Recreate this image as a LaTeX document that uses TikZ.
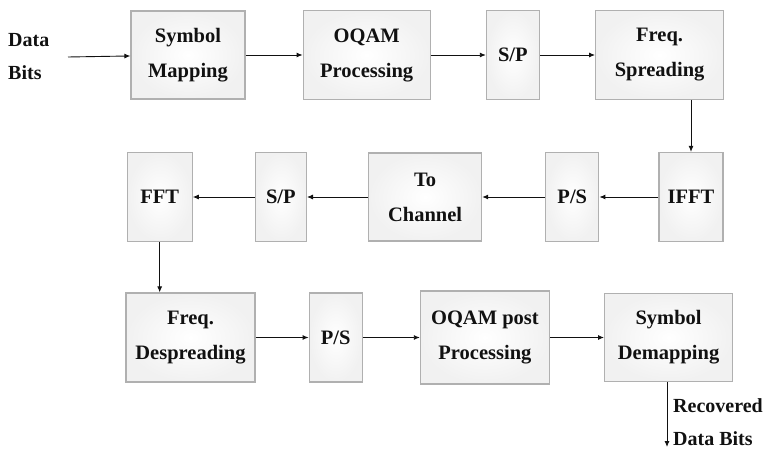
\documentclass[tikz,border=0pt]{standalone}
\usepackage{fontspec}
\setmainfont{Liberation Serif}
\usetikzlibrary{arrows.meta,positioning}
\definecolor{ink}{HTML}{111111}
\definecolor{frame}{HTML}{B0B0B0}
\definecolor{edge}{HTML}{F1F1F1}
\tikzset{
  basebox/.style={draw=frame,line width=1.2pt,shade,inner color=white,outer color=edge,
    align=center,text=ink,font=\fontsize{20.5}{35}\selectfont\bfseries,inner sep=2pt},
  arrow/.style={-{Latex[length=6pt,width=5pt]},line width=0.9pt,draw=ink},
  label/.style={align=left,text=ink,font=\fontsize{20}{33}\selectfont\bfseries,inner sep=0pt}
}
\begin{document}
\begin{tikzpicture}[x=1pt,y=-1pt,
    blk/.style={basebox,minimum height=89pt},
    wide/.style={blk,minimum width=128pt},
    slim/.style={blk,minimum width=53pt}
  ]
  \useasboundingbox (0,0) rectangle (765,449);

  % transmitter, first row
  \node[label,anchor=west] (in) at (8,57) {Data\\Bits};
  \coordinate (src) at (68,57);
  \node[blk,minimum width=114pt,minimum height=88pt] (map) at (188,55) {Symbol\\Mapping};
  \node[wide,minimum width=127pt,right=57pt of map] (oqam) {OQAM\\Processing};
  \node[slim,right=55pt of oqam] (sp1) {S/P};
  \node[wide,right=55pt of sp1] (spread) {Freq.\\Spreading};

  % second row, right to left
  \node[blk,minimum width=64pt] (ifft) at (691,197) {IFFT};
  \node[slim,left=59pt of ifft] (ps1) {P/S};
  \node[blk,minimum width=113pt,minimum height=88pt,left=63pt of ps1] (chan) {To\\Channel};
  \node[slim,minimum width=51pt,left=61pt of chan] (sp2) {S/P};
  \node[blk,minimum width=65pt,left=62pt of sp2] (fft) {FFT};

  % receiver, third row
  \node[wide,minimum width=129pt] (desp) at (190.5,337.5) {Freq.\\Despreading};
  \node[slim,right=53pt of desp] (ps2) {P/S};
  \node[wide,minimum width=129pt,minimum height=93pt,right=57pt of ps2] (post) {OQAM post\\Processing};
  \node[wide,minimum height=88pt,right=54pt of post] (demap) {Symbol\\Demapping};
  \coordinate (sink) at (667,447);
  \node[label,anchor=west] (out) at (673,422) {Recovered\\Data Bits};

  \draw[arrow] (src) -- (map);
  \draw[arrow] (map) -- (oqam);
  \draw[arrow] (oqam) -- (sp1);
  \draw[arrow] (sp1) -- (spread);
  \draw[arrow] (spread.south -| ifft.north) -- (ifft.north);
  \draw[arrow] (ifft) -- (ps1);
  \draw[arrow] (ps1) -- (chan);
  \draw[arrow] (chan) -- (sp2);
  \draw[arrow] (sp2) -- (fft);
  \draw[arrow] (fft.south) -- (fft.south |- desp.north);
  \draw[arrow] (desp) -- (ps2);
  \draw[arrow] (ps2) -- (post);
  \draw[arrow] (post) -- (demap);
  \draw[arrow] (demap.south -| sink) -- (sink);
\end{tikzpicture}
\end{document}
